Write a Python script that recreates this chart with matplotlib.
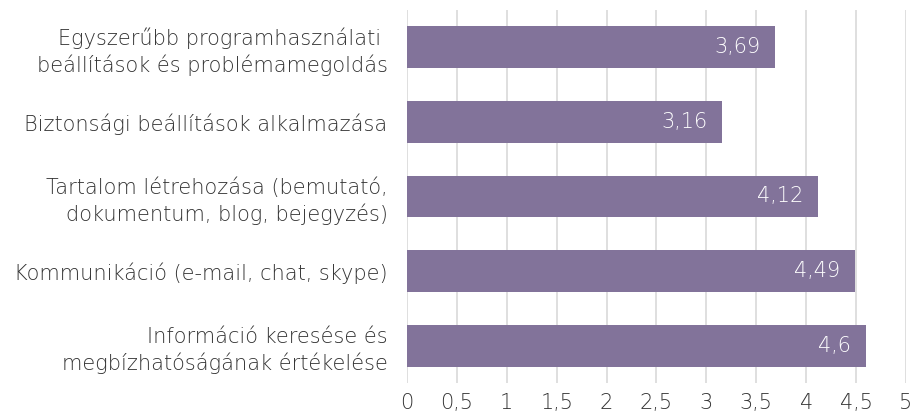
import matplotlib
matplotlib.use("Agg")
import matplotlib.pyplot as plt
from matplotlib.ticker import MultipleLocator, FuncFormatter

categories = [
    "Egyszerűbb programhasználati \nbeállítások és problémamegoldás",
    "Biztonsági beállítások alkalmazása",
    "Tartalom létrehozása (bemutató,\ndokumentum, blog, bejegyzés)",
    "Kommunikáció (e-mail, chat, skype)",
    "Információ keresése és\nmegbízhatóságának értékelése",
]
values = [3.69, 3.16, 4.12, 4.49, 4.6]

plt.rcParams['font.family'] = ['DejaVu Sans']
FS = 15
TXT = "#333333"

fig = plt.figure(figsize=(9.13, 4.16), dpi=100)
ax = fig.add_axes([0.4458, 0.0793, 0.5465, 0.897])

ypos = list(range(len(categories)))
bar_color = "#82739A"
ax.barh(ypos, values, height=0.56, color=bar_color, zorder=3)
for y, v in zip(ypos, values):
    ax.text(v - 0.15, y, f"{v}".replace(".", ","), ha="right", va="center",
            color="white", fontsize=FS, fontweight="light", zorder=4)

ax.set_ylim(len(categories) - 0.5, -0.5)
ax.set_xlim(0, 5)
ax.set_yticks(ypos)
ax.set_yticklabels(categories, fontsize=FS, color=TXT, ha="right",
                   fontweight="light", linespacing=1.3)
ax.xaxis.set_major_locator(MultipleLocator(0.5))
ax.xaxis.set_major_formatter(FuncFormatter(lambda x, p: (f"{x:g}").replace(".", ",")))
ax.tick_params(axis="x", labelsize=FS, colors=TXT, length=0, pad=7)
for t in ax.get_xticklabels():
    t.set_fontweight("light")
ax.tick_params(axis="y", length=0, pad=14)
ax.grid(axis="x", color="#d9d9d9", linewidth=1.2, zorder=0)
for s in ax.spines.values():
    s.set_visible(False)

fig.savefig("out.png", dpi=100)
